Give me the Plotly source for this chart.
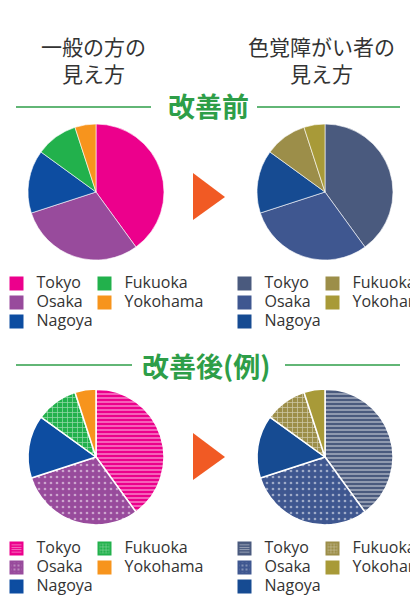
import plotly.graph_objects as go

W, H = 410, 599

# ---- data ----
cities = ["Tokyo", "Osaka", "Nagoya", "Fukuoka", "Yokohama"]
shares = [40, 30, 15, 10, 5]
colors_normal = ["#EC008C", "#984B9C", "#0D4DA1", "#22B14C", "#F7941D"]
colors_cvd = ["#4A5A7E", "#3F5790", "#164B92", "#9C8E49", "#A89A38"]
# pattern per city for the improved version
patterns = ["-", ".", "", "+", ""]
pattern_sizes = [4, 6, 8, 5, 8]
pattern_solidity = [0.38, 0.16, 0.2, 0.28, 0.2]
legend_col = [0, 0, 0, 1, 1]

title_left = "一般の方の<br>見え方"
title_right = "色覚障がい者の<br>見え方"
header_before = "改善前"
header_after = "改善後(例)"

TEXT = "#333333"
GREEN = "#2E9E48"
ARROW = "#F15A24"
FONT_JP = "Noto Sans CJK JP"
FONT_LEG = "Open Sans"


def px(x):
    return x / W


def py(y):
    return 1 - y / H


def dom(cx, cy, r):
    return dict(x=[px(cx - r), px(cx + r)], y=[py(cy + r), py(cy - r)])


fig = go.Figure()

panels = [
    # center x, center y, colors, patterned, legend ids (col1, col2), legend x (col1, col2), legend top y
    (96, 192, colors_normal, False, ("legend", "legend2"), (-3.5, 84.5), 269),
    (325, 192, colors_cvd, False, ("legend3", "legend4"), (224.5, 312.5), 269),
    (96, 457, colors_normal, True, ("legend5", "legend6"), (-3.5, 84.5), 534),
    (325, 457, colors_cvd, True, ("legend7", "legend8"), (224.5, 312.5), 534),
]

layout_legends = {}
legend_common = dict(
    orientation="v", traceorder="normal", bgcolor="rgba(0,0,0,0)",
    borderwidth=0, font=dict(family=FONT_LEG, size=11, color=TEXT),
    xanchor="left", yanchor="top", tracegroupgap=0, itemclick=False,
    itemdoubleclick=False,
)

for (cx, cy, cols, patterned, legs, lxs, ly) in panels:
    pat = dict(
        shape=[p if patterned else "" for p in patterns],
        fgcolor="white",
        fillmode="overlay",
        size=pattern_sizes,
        solidity=pattern_solidity,
    )
    fig.add_trace(go.Pie(
        labels=cities, values=shares, sort=False, direction="clockwise",
        rotation=0, textinfo="none", hoverinfo="label+percent",
        marker=dict(colors=cols, line=dict(color="white", width=1.5 if patterned else 0.6),
                    pattern=pat),
        domain=dom(cx, cy, 68), showlegend=False,
    ))
    # legend entries (bars outside the hidden axis range, legend only)
    for k in range(len(cities)):
        fig.add_trace(go.Bar(
            x=[cities[k]], y=[shares[k]],
            name=f"<span style='font-size:16px'>{cities[k]}</span>",
            legend=legs[legend_col[k]],
            marker=dict(color=cols[k], line=dict(color=cols[k], width=2),
                        pattern=dict(shape=patterns[k] if patterned else "",
                                     fgcolor="white", fillmode="overlay",
                                     size=max(3, pattern_sizes[k] - 1),
                                     solidity=pattern_solidity[k])),
            hoverinfo="skip", showlegend=True,
        ))
    for leg, lx in zip(legs, lxs):
        layout_legends[leg] = dict(legend_common, x=px(lx), y=py(ly))

shapes = []
# header lines
for (x0, x1, yy) in [(16, 151, 107), (257, 400, 107), (16, 132, 365), (285, 400, 365)]:
    shapes.append(dict(type="line", xref="paper", yref="paper",
                       x0=px(x0), x1=px(x1), y0=py(yy), y1=py(yy),
                       line=dict(color=GREEN, width=1.5)))
# arrows
for (ytop, ymid, ybot) in [(173, 197, 220), (433, 457, 480)]:
    path = (f"M {px(193)} {py(ytop)} L {px(225)} {py(ymid)} "
            f"L {px(193)} {py(ybot)} Z")
    shapes.append(dict(type="path", xref="paper", yref="paper", path=path,
                       fillcolor=ARROW, line=dict(width=0)))

ann_common = dict(xref="paper", yref="paper", showarrow=False,
                  xanchor="center", yanchor="middle")
annotations = [
    dict(ann_common, text=title_left, x=px(93), y=py(59.5),
         font=dict(family=FONT_JP, size=21, color=TEXT)),
    dict(ann_common, text=title_right, x=px(321), y=py(59.5),
         font=dict(family=FONT_JP, size=21, color=TEXT)),
    dict(ann_common, text=f"<b>{header_before}</b>", x=px(208), y=py(106),
         font=dict(family=FONT_JP, size=27, color=GREEN)),
    dict(ann_common, text=f"<b>{header_after}</b>", x=px(206), y=py(365),
         font=dict(family=FONT_JP, size=27, color=GREEN)),
]

fig.update_layout(
    width=W, height=H, margin=dict(l=0, r=0, t=0, b=0, autoexpand=False),
    paper_bgcolor="white", plot_bgcolor="white",
    xaxis=dict(visible=False, domain=[0, 0.01]),
    yaxis=dict(visible=False, domain=[0, 0.01], range=[-2, -1]),
    shapes=shapes, annotations=annotations, **layout_legends,
)

fig.write_html("out.html", config={"displayModeBar": False},
               post_script="document.body.style.margin='0';document.body.style.overflow='hidden';")
